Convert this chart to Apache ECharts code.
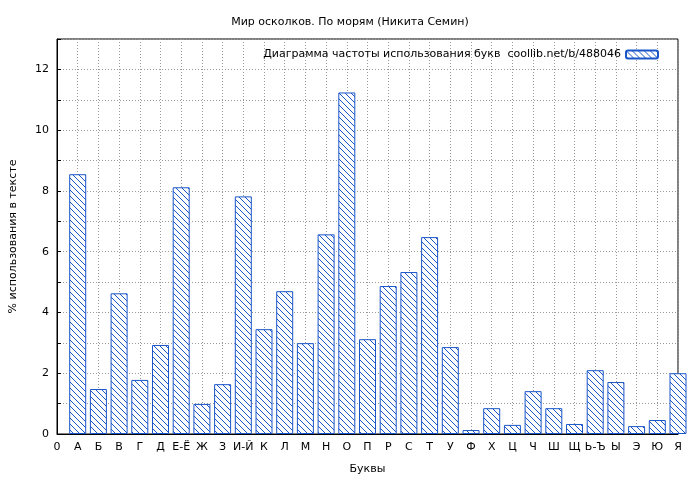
<!DOCTYPE html>
<html><head><meta charset="utf-8">
<script src="https://cdn.jsdelivr.net/npm/echarts@6/dist/echarts.min.js"></script>
<style>body{margin:0;background:#fff}#c{width:700px;height:480px}</style>
</head><body><div id="c"></div>
<script>
var tickLabels = ['0','А','Б','В','Г','Д','Е-Ё','Ж','З','И-Й','К','Л','М','Н','О','П','Р','С','Т','У','Ф','Х','Ц','Ч','Ш','Щ','Ь-Ъ','Ы','Э','Ю','Я'];
var values = [8.55,1.48,4.63,1.78,2.93,8.12,0.99,1.64,7.82,3.45,4.70,2.99,6.57,11.24,3.12,4.87,5.33,6.48,2.86,0.13,0.85,0.30,1.41,0.85,0.33,2.10,1.71,0.26,0.46,2.00];
var seriesName = 'Диаграмма частоты использования букв  coollib.net/b/488046';

var pc = document.createElement('canvas'); pc.width = 6; pc.height = 6;
var g = pc.getContext('2d'); g.fillStyle = '#fff'; g.fillRect(0,0,6,6);
g.strokeStyle = '#1a56c8'; g.lineWidth = 1;
g.beginPath(); g.moveTo(-1,-1); g.lineTo(7,7); g.moveTo(-4,2); g.lineTo(4,10); g.moveTo(2,-4); g.lineTo(10,4); g.stroke();

var data = values.map(function(v,i){return [i+1, v];});
var chart = echarts.init(document.getElementById('c'));
chart.setOption({
  animation:false,
  title:{text:'Мир осколков. По морям (Никита Семин)',left:'center',top:12,textStyle:{fontSize:11,fontWeight:'normal',color:'#000',fontFamily:'DejaVu Sans'}},
  legend:{top:44,right:36,align:'right',itemWidth:32,itemHeight:8,textStyle:{fontSize:11,color:'#000',fontFamily:'DejaVu Sans'},data:[seriesName]},
  grid:{left:54,right:22,top:39,bottom:46,show:true,borderColor:'#000',borderWidth:1,backgroundColor:'#fff'},
  xAxis:{type:'value',min:0,max:30,interval:1,name:'Буквы',nameLocation:'middle',nameGap:30,
    nameTextStyle:{fontSize:11,color:'#000',fontFamily:'DejaVu Sans'},
    axisLine:{lineStyle:{color:'#000'}},axisTick:{inside:true,length:4,lineStyle:{color:'#000'}},
    axisLabel:{color:'#000',fontSize:11,fontFamily:'DejaVu Sans',formatter:function(v){return tickLabels[v]||'';}},
    splitLine:{show:true,lineStyle:{color:'#999',type:[1,2]}}},
  yAxis:{type:'value',min:0,max:13,interval:1,name:'% использования в тексте',nameLocation:'middle',nameGap:38,
    nameTextStyle:{fontSize:11,color:'#000',fontFamily:'DejaVu Sans'},
    axisLine:{show:true,lineStyle:{color:'#000'}},axisTick:{inside:true,length:4,lineStyle:{color:'#000'}},
    axisLabel:{color:'#000',fontSize:11,fontFamily:'DejaVu Sans',formatter:function(v){return (v%2===0&&v<13)?v:'';}},
    splitLine:{show:true,lineStyle:{color:'#999',type:[1,2]}}},
  series:[{name:seriesName,type:'bar',data:data,barWidth:17,clip:true,
    itemStyle:{color:{image:pc,repeat:'repeat'},borderColor:'#1a56c8',borderWidth:1}}]
});
</script></body></html>
